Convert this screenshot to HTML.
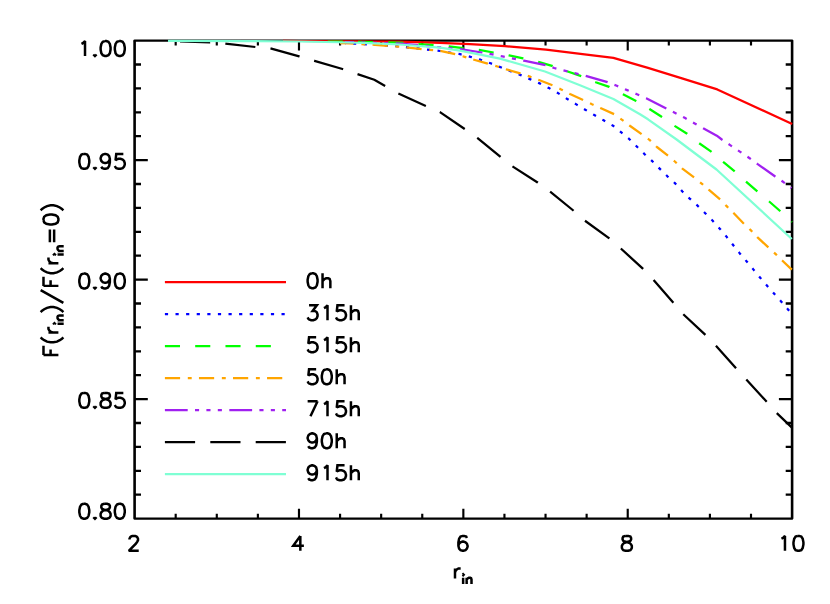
<!DOCTYPE html>
<html lang="en"><head><meta charset="utf-8"><title>plot</title>
<style>
html,body{margin:0;padding:0;background:#fff;}
body{width:830px;height:604px;overflow:hidden;}
svg{display:block;}
text{font-family:"Liberation Sans",sans-serif;fill:#000;}
</style></head><body>
<svg width="830" height="604" viewBox="0 0 830 604" role="img" aria-label="F(r_in)/F(r_in=0) versus r_in">
<title>F(r_in)/F(r_in=0) versus r_in</title>
<desc>Line plot. X axis r_in from 2 to 10; Y axis F(r_in)/F(r_in=0) from 0.80 to 1.00. Legend: 0h, 315h, 515h, 50h, 715h, 90h, 915h.</desc>
<rect width="830" height="604" fill="#fff"/>
<g stroke="#000" fill="none" stroke-linecap="butt">
<path stroke-width="2.35" stroke-linecap="round" d="M134.60 40.60H792.10M134.60 518.60H792.10"/>
<path stroke-width="2.60" d="M134.60 40.60V518.60M792.10 40.60V518.60"/>
<path stroke-width="2.15" d="M175.69 518.60v-4.80M175.69 40.60v4.80M216.79 518.60v-4.80M216.79 40.60v4.80M257.88 518.60v-4.80M257.88 40.60v4.80M298.98 518.60v-9.80M298.98 40.60v9.80M340.07 518.60v-4.80M340.07 40.60v4.80M381.16 518.60v-4.80M381.16 40.60v4.80M422.26 518.60v-4.80M422.26 40.60v4.80M463.35 518.60v-9.80M463.35 40.60v9.80M504.44 518.60v-4.80M504.44 40.60v4.80M545.54 518.60v-4.80M545.54 40.60v4.80M586.63 518.60v-4.80M586.63 40.60v4.80M627.73 518.60v-9.80M627.73 40.60v9.80M668.82 518.60v-4.80M668.82 40.60v4.80M709.91 518.60v-4.80M709.91 40.60v4.80M751.01 518.60v-4.80M751.01 40.60v4.80"/>
<path stroke-width="2.30" d="M134.60 64.50h6.40M792.10 64.50h-6.40M134.60 88.40h6.40M792.10 88.40h-6.40M134.60 112.30h6.40M792.10 112.30h-6.40M134.60 136.20h6.40M792.10 136.20h-6.40M134.60 160.10h13.20M792.10 160.10h-13.20M134.60 184.00h6.40M792.10 184.00h-6.40M134.60 207.90h6.40M792.10 207.90h-6.40M134.60 231.80h6.40M792.10 231.80h-6.40M134.60 255.70h6.40M792.10 255.70h-6.40M134.60 279.60h13.20M792.10 279.60h-13.20M134.60 303.50h6.40M792.10 303.50h-6.40M134.60 327.40h6.40M792.10 327.40h-6.40M134.60 351.30h6.40M792.10 351.30h-6.40M134.60 375.20h6.40M792.10 375.20h-6.40M134.60 399.10h13.20M792.10 399.10h-13.20M134.60 423.00h6.40M792.10 423.00h-6.40M134.60 446.90h6.40M792.10 446.90h-6.40M134.60 470.80h6.40M792.10 470.80h-6.40M134.60 494.70h6.40M792.10 494.70h-6.40"/>
</g>
<g fill="none" stroke-width="2.25" stroke-linejoin="round" stroke-linecap="butt">
<clipPath id="cr"><rect x="283" y="0" width="600" height="604"/></clipPath>
<clipPath id="cg"><rect x="315" y="0" width="600" height="604"/></clipPath>
<clipPath id="cp"><rect x="345" y="0" width="600" height="604"/></clipPath>
<clipPath id="co"><rect x="340" y="0" width="600" height="604"/></clipPath>
<clipPath id="cb"><rect x="345" y="0" width="600" height="604"/></clipPath>
<polyline stroke="#ff0000" clip-path="url(#cr)" points="168.0,40.9 250.0,40.9 300.0,41.0 350.0,41.3 375.0,41.5 400.0,41.6 440.0,42.9 470.0,44.2 505.0,46.2 546.0,49.7 584.6,54.3 613.4,57.9 648.0,67.9 682.0,78.3 717.3,89.4 792.2,124.1"/>
<polyline stroke="#0000ff" stroke-dasharray="3.2 7.4" stroke-dashoffset="5.70" clip-path="url(#cb)" points="168.0,40.9 250.0,41.2 300.0,41.8 350.0,43.4 375.0,44.7 400.0,46.5 440.0,51.0 460.2,54.2 470.4,56.8 480.5,59.7 490.6,63.3 500.7,67.3 520.2,74.9 529.9,79.1 539.8,83.4 549.0,88.1 558.0,93.1 567.3,99.0 576.3,104.4 585.2,109.7 594.3,115.0 603.6,120.3 613.0,125.7 621.3,132.4 628.9,138.7 644.4,154.0 652.3,161.2 659.9,168.9 667.4,176.3 675.2,183.4 682.4,191.5 689.7,198.6 697.6,205.7 705.2,213.2 712.7,220.8 719.8,228.7 726.7,236.9 733.3,245.3 739.8,253.4 746.7,261.4 753.5,269.6 760.2,277.7 767.1,285.7 774.2,293.7 781.1,301.4 788.0,309.4 792.0,314.0"/>
<polyline stroke="#00ff00" stroke-dasharray="15.1 15.19" stroke-dashoffset="22.04" clip-path="url(#cg)" points="168.0,40.9 250.0,41.0 300.0,41.2 350.0,41.8 375.0,42.2 400.0,42.7 449.0,46.3 463.1,48.2 479.0,49.9 493.5,52.5 509.1,55.4 523.1,58.3 538.3,61.8 552.0,65.8 567.0,71.2 580.5,75.9 595.7,82.2 609.2,86.9 623.0,94.3 636.1,101.1 649.5,109.0 661.6,116.8 674.6,125.9 687.1,133.7 699.2,143.3 711.2,151.6 723.5,162.2 734.4,171.1 746.3,181.8 757.3,191.4 769.2,201.5 779.5,210.5 792.0,222.0"/>
<polyline stroke="#ffa500" stroke-dasharray="15.2 7.7 3.9 7.25" stroke-dashoffset="-0.30" clip-path="url(#co)" points="168.0,40.9 250.0,41.2 300.0,41.8 350.0,43.4 375.0,44.9 399.0,46.7 441.4,51.1 455.2,54.2 464.6,56.8 474.0,59.7 487.7,63.6 497.5,66.5 506.5,69.4 520.2,73.3 529.9,76.6 539.0,80.0 552.7,85.3 561.1,89.4 570.0,94.0 583.5,100.2 592.0,104.3 601.0,108.3 614.2,114.2 622.1,119.8 630.2,126.0 642.0,134.5 649.4,139.8 656.9,147.0 668.4,156.0 675.4,162.0 682.7,168.9 694.1,177.5 702.0,183.8 709.3,190.2 720.2,199.5 726.9,206.4 733.8,213.2 744.1,224.0 751.0,230.4 757.8,237.7 768.6,247.6 775.7,254.1 782.2,260.5 791.8,269.6"/>
<polyline stroke="#a020f0" stroke-dasharray="22.8 7.3 4.1 7.3 4.1 7.3 4.1 7.42" stroke-dashoffset="30.00" clip-path="url(#cp)" points="168.0,40.9 250.0,41.0 300.0,41.3 350.0,42.1 375.0,42.8 400.0,43.5 460.2,49.2 481.9,52.5 502.5,56.4 523.9,60.7 545.5,65.1 554.2,68.0 585.5,75.8 607.5,82.2 616.2,85.5 626.5,89.9 637.0,94.3 646.2,98.2 665.8,108.3 674.7,112.7 684.7,117.8 694.7,123.4 703.2,128.3 716.8,135.7 721.8,139.5 729.8,144.9 739.8,151.6 749.3,158.0 757.3,163.9 775.2,176.5 783.1,181.8 791.5,188.0"/>
<polyline stroke="#000000" stroke-dasharray="30.2 15.2" stroke-dashoffset="33.40" points="168.0,41.0 179.0,41.4 210.0,42.5 225.2,43.5 255.4,47.0 270.3,48.3 299.2,56.4 314.5,60.8 342.5,69.0 357.4,74.1 374.3,79.8 385.2,86.0 398.4,93.5 425.8,105.9 440.0,112.1 464.7,129.0 477.3,137.9 500.6,157.0 512.4,166.3 537.6,182.5 549.9,191.5 573.3,210.5 584.8,220.6 609.3,238.3 620.7,248.4 643.1,268.8 653.6,279.9 673.5,302.9 682.9,313.9 705.6,335.0 715.6,345.4 736.1,368.4 745.9,379.1 767.0,402.1 776.4,412.8 792.2,427.9"/>
<polyline stroke="#7fffd4" points="168.0,40.9 250.0,41.1 300.0,41.5 350.0,42.5 375.0,43.4 400.0,44.5 440.0,47.7 460.0,50.6 500.0,58.6 545.0,71.5 580.0,85.2 613.4,99.0 640.0,114.2 648.0,119.3 676.6,139.5 716.5,169.5 791.8,239.0"/>
<path stroke="#ff0000" d="M164.9 282.00H286"/>
<path stroke="#0000ff" stroke-dasharray="3.2 7.4" d="M164.9 314.01H286"/>
<path stroke="#00ff00" stroke-dasharray="15.1 15.19" d="M164.9 346.02H286"/>
<path stroke="#ffa500" stroke-dasharray="15.2 7.7 3.9 7.25" d="M164.9 378.03H286"/>
<path stroke="#a020f0" stroke-dasharray="22.8 7.3 4.1 7.3 4.1 7.3 4.1 7.42" d="M164.9 410.04H286"/>
<path stroke="#000000" stroke-dasharray="30.2 15.2" d="M164.9 442.05H286"/>
<path stroke="#7fffd4" d="M164.9 474.06H286"/>
</g>
<path fill="none" stroke="#000" stroke-width="2.50" stroke-linecap="butt" stroke-linejoin="miter" stroke-miterlimit="2.4" d="M311.89 273.29L309.76 274.00L308.34 276.13L307.63 279.68L307.63 281.81L308.34 285.36L309.76 287.49L311.89 288.20L313.31 288.20L315.44 287.49L316.86 285.36L317.57 281.81L317.57 279.68L316.86 276.13L315.44 274.00L313.31 273.29L311.89 273.29M322.54 273.29L322.54 288.20M322.54 281.10L324.67 278.97L326.09 278.26L328.22 278.26L329.64 278.97L330.35 281.10L330.35 288.20M309.05 305.30L316.86 305.30L312.60 310.98L314.73 310.98L316.15 311.69L316.86 312.40L317.57 314.53L317.57 315.95L316.86 318.08L315.44 319.50L313.31 320.21L311.18 320.21L309.05 319.50L308.34 318.79L307.63 317.37M323.96 308.14L325.38 307.43L327.51 305.30L327.51 320.21M344.55 305.30L337.45 305.30L336.74 311.69L337.45 310.98L339.58 310.27L341.71 310.27L343.84 310.98L345.26 312.40L345.97 314.53L345.97 315.95L345.26 318.08L343.84 319.50L341.71 320.21L339.58 320.21L337.45 319.50L336.74 318.79L336.03 317.37M350.94 305.30L350.94 320.21M350.94 313.11L353.07 310.98L354.49 310.27L356.62 310.27L358.04 310.98L358.75 313.11L358.75 320.21M316.15 337.31L309.05 337.31L308.34 343.70L309.05 342.99L311.18 342.28L313.31 342.28L315.44 342.99L316.86 344.41L317.57 346.54L317.57 347.96L316.86 350.09L315.44 351.51L313.31 352.22L311.18 352.22L309.05 351.51L308.34 350.80L307.63 349.38M323.96 340.15L325.38 339.44L327.51 337.31L327.51 352.22M344.55 337.31L337.45 337.31L336.74 343.70L337.45 342.99L339.58 342.28L341.71 342.28L343.84 342.99L345.26 344.41L345.97 346.54L345.97 347.96L345.26 350.09L343.84 351.51L341.71 352.22L339.58 352.22L337.45 351.51L336.74 350.80L336.03 349.38M350.94 337.31L350.94 352.22M350.94 345.12L353.07 342.99L354.49 342.28L356.62 342.28L358.04 342.99L358.75 345.12L358.75 352.22M316.15 369.32L309.05 369.32L308.34 375.71L309.05 375.00L311.18 374.29L313.31 374.29L315.44 375.00L316.86 376.42L317.57 378.55L317.57 379.97L316.86 382.10L315.44 383.52L313.31 384.23L311.18 384.23L309.05 383.52L308.34 382.81L307.63 381.39M326.09 369.32L323.96 370.03L322.54 372.16L321.83 375.71L321.83 377.84L322.54 381.39L323.96 383.52L326.09 384.23L327.51 384.23L329.64 383.52L331.06 381.39L331.77 377.84L331.77 375.71L331.06 372.16L329.64 370.03L327.51 369.32L326.09 369.32M336.74 369.32L336.74 384.23M336.74 377.13L338.87 375.00L340.29 374.29L342.42 374.29L343.84 375.00L344.55 377.13L344.55 384.23M317.57 401.33L310.47 416.24M307.63 401.33L317.57 401.33M323.96 404.17L325.38 403.46L327.51 401.33L327.51 416.24M344.55 401.33L337.45 401.33L336.74 407.72L337.45 407.01L339.58 406.30L341.71 406.30L343.84 407.01L345.26 408.43L345.97 410.56L345.97 411.98L345.26 414.11L343.84 415.53L341.71 416.24L339.58 416.24L337.45 415.53L336.74 414.82L336.03 413.40M350.94 401.33L350.94 416.24M350.94 409.14L353.07 407.01L354.49 406.30L356.62 406.30L358.04 407.01L358.75 409.14L358.75 416.24M316.86 438.31L316.15 440.44L314.73 441.86L312.60 442.57L311.89 442.57L309.76 441.86L308.34 440.44L307.63 438.31L307.63 437.60L308.34 435.47L309.76 434.05L311.89 433.34L312.60 433.34L314.73 434.05L316.15 435.47L316.86 438.31L316.86 441.86L316.15 445.41L314.73 447.54L312.60 448.25L311.18 448.25L309.05 447.54L308.34 446.12M326.09 433.34L323.96 434.05L322.54 436.18L321.83 439.73L321.83 441.86L322.54 445.41L323.96 447.54L326.09 448.25L327.51 448.25L329.64 447.54L331.06 445.41L331.77 441.86L331.77 439.73L331.06 436.18L329.64 434.05L327.51 433.34L326.09 433.34M336.74 433.34L336.74 448.25M336.74 441.15L338.87 439.02L340.29 438.31L342.42 438.31L343.84 439.02L344.55 441.15L344.55 448.25M316.86 470.32L316.15 472.45L314.73 473.87L312.60 474.58L311.89 474.58L309.76 473.87L308.34 472.45L307.63 470.32L307.63 469.61L308.34 467.48L309.76 466.06L311.89 465.35L312.60 465.35L314.73 466.06L316.15 467.48L316.86 470.32L316.86 473.87L316.15 477.42L314.73 479.55L312.60 480.26L311.18 480.26L309.05 479.55L308.34 478.13M323.96 468.19L325.38 467.48L327.51 465.35L327.51 480.26M344.55 465.35L337.45 465.35L336.74 471.74L337.45 471.03L339.58 470.32L341.71 470.32L343.84 471.03L345.26 472.45L345.97 474.58L345.97 476.00L345.26 478.13L343.84 479.55L341.71 480.26L339.58 480.26L337.45 479.55L336.74 478.84L336.03 477.42M350.94 465.35L350.94 480.26M350.94 473.16L353.07 471.03L354.49 470.32L356.62 470.32L358.04 471.03L358.75 473.16L358.75 480.26M81.46 43.93L82.88 43.22L85.01 41.09L85.01 56.00M94.95 54.58L94.24 55.29L94.95 56.00L95.66 55.29L94.95 54.58M104.89 41.09L102.76 41.80L101.34 43.93L100.63 47.48L100.63 49.61L101.34 53.16L102.76 55.29L104.89 56.00L106.31 56.00L108.44 55.29L109.86 53.16L110.57 49.61L110.57 47.48L109.86 43.93L108.44 41.80L106.31 41.09L104.89 41.09M119.09 41.09L116.96 41.80L115.54 43.93L114.83 47.48L114.83 49.61L115.54 53.16L116.96 55.29L119.09 56.00L120.51 56.00L122.64 55.29L124.06 53.16L124.77 49.61L124.77 47.48L124.06 43.93L122.64 41.80L120.51 41.09L119.09 41.09M83.59 153.89L81.46 154.60L80.04 156.73L79.33 160.28L79.33 162.41L80.04 165.96L81.46 168.09L83.59 168.80L85.01 168.80L87.14 168.09L88.56 165.96L89.27 162.41L89.27 160.28L88.56 156.73L87.14 154.60L85.01 153.89L83.59 153.89M94.95 167.38L94.24 168.09L94.95 168.80L95.66 168.09L94.95 167.38M109.86 158.86L109.15 160.99L107.73 162.41L105.60 163.12L104.89 163.12L102.76 162.41L101.34 160.99L100.63 158.86L100.63 158.15L101.34 156.02L102.76 154.60L104.89 153.89L105.60 153.89L107.73 154.60L109.15 156.02L109.86 158.86L109.86 162.41L109.15 165.96L107.73 168.09L105.60 168.80L104.18 168.80L102.05 168.09L101.34 166.67M123.35 153.89L116.25 153.89L115.54 160.28L116.25 159.57L118.38 158.86L120.51 158.86L122.64 159.57L124.06 160.99L124.77 163.12L124.77 164.54L124.06 166.67L122.64 168.09L120.51 168.80L118.38 168.80L116.25 168.09L115.54 167.38L114.83 165.96M83.59 273.59L81.46 274.30L80.04 276.43L79.33 279.98L79.33 282.11L80.04 285.66L81.46 287.79L83.59 288.50L85.01 288.50L87.14 287.79L88.56 285.66L89.27 282.11L89.27 279.98L88.56 276.43L87.14 274.30L85.01 273.59L83.59 273.59M94.95 287.08L94.24 287.79L94.95 288.50L95.66 287.79L94.95 287.08M109.86 278.56L109.15 280.69L107.73 282.11L105.60 282.82L104.89 282.82L102.76 282.11L101.34 280.69L100.63 278.56L100.63 277.85L101.34 275.72L102.76 274.30L104.89 273.59L105.60 273.59L107.73 274.30L109.15 275.72L109.86 278.56L109.86 282.11L109.15 285.66L107.73 287.79L105.60 288.50L104.18 288.50L102.05 287.79L101.34 286.37M119.09 273.59L116.96 274.30L115.54 276.43L114.83 279.98L114.83 282.11L115.54 285.66L116.96 287.79L119.09 288.50L120.51 288.50L122.64 287.79L124.06 285.66L124.77 282.11L124.77 279.98L124.06 276.43L122.64 274.30L120.51 273.59L119.09 273.59M83.59 392.89L81.46 393.60L80.04 395.73L79.33 399.28L79.33 401.41L80.04 404.96L81.46 407.09L83.59 407.80L85.01 407.80L87.14 407.09L88.56 404.96L89.27 401.41L89.27 399.28L88.56 395.73L87.14 393.60L85.01 392.89L83.59 392.89M94.95 406.38L94.24 407.09L94.95 407.80L95.66 407.09L94.95 406.38M104.18 392.89L102.05 393.60L101.34 395.02L101.34 396.44L102.05 397.86L103.47 398.57L106.31 399.28L108.44 399.99L109.86 401.41L110.57 402.83L110.57 404.96L109.86 406.38L109.15 407.09L107.02 407.80L104.18 407.80L102.05 407.09L101.34 406.38L100.63 404.96L100.63 402.83L101.34 401.41L102.76 399.99L104.89 399.28L107.73 398.57L109.15 397.86L109.86 396.44L109.86 395.02L109.15 393.60L107.02 392.89L104.18 392.89M123.35 392.89L116.25 392.89L115.54 399.28L116.25 398.57L118.38 397.86L120.51 397.86L122.64 398.57L124.06 399.99L124.77 402.12L124.77 403.54L124.06 405.67L122.64 407.09L120.51 407.80L118.38 407.80L116.25 407.09L115.54 406.38L114.83 404.96M83.59 503.79L81.46 504.50L80.04 506.63L79.33 510.18L79.33 512.31L80.04 515.86L81.46 517.99L83.59 518.70L85.01 518.70L87.14 517.99L88.56 515.86L89.27 512.31L89.27 510.18L88.56 506.63L87.14 504.50L85.01 503.79L83.59 503.79M94.95 517.28L94.24 517.99L94.95 518.70L95.66 517.99L94.95 517.28M104.18 503.79L102.05 504.50L101.34 505.92L101.34 507.34L102.05 508.76L103.47 509.47L106.31 510.18L108.44 510.89L109.86 512.31L110.57 513.73L110.57 515.86L109.86 517.28L109.15 517.99L107.02 518.70L104.18 518.70L102.05 517.99L101.34 517.28L100.63 515.86L100.63 513.73L101.34 512.31L102.76 510.89L104.89 510.18L107.73 509.47L109.15 508.76L109.86 507.34L109.86 505.92L109.15 504.50L107.02 503.79L104.18 503.79M119.09 503.79L116.96 504.50L115.54 506.63L114.83 510.18L114.83 512.31L115.54 515.86L116.96 517.99L119.09 518.70L120.51 518.70L122.64 517.99L124.06 515.86L124.77 512.31L124.77 510.18L124.06 506.63L122.64 504.50L120.51 503.79L119.09 503.79M129.49 539.44L129.49 538.73L130.20 537.31L130.91 536.60L132.33 535.89L135.17 535.89L136.59 536.60L137.30 537.31L138.01 538.73L138.01 540.15L137.30 541.57L135.88 543.70L128.78 550.80L138.72 550.80M300.33 535.89L293.23 545.83L303.88 545.83M300.33 535.89L300.33 550.80M466.91 538.02L466.20 536.60L464.07 535.89L462.65 535.89L460.52 536.60L459.10 538.73L458.39 542.28L458.39 545.83L459.10 548.67L460.52 550.09L462.65 550.80L463.36 550.80L465.49 550.09L466.91 548.67L467.62 546.54L467.62 545.83L466.91 543.70L465.49 542.28L463.36 541.57L462.65 541.57L460.52 542.28L459.10 543.70L458.39 545.83M625.43 535.89L623.30 536.60L622.59 538.02L622.59 539.44L623.30 540.86L624.72 541.57L627.56 542.28L629.69 542.99L631.11 544.41L631.82 545.83L631.82 547.96L631.11 549.38L630.40 550.09L628.27 550.80L625.43 550.80L623.30 550.09L622.59 549.38L621.88 547.96L621.88 545.83L622.59 544.41L624.01 542.99L626.14 542.28L628.98 541.57L630.40 540.86L631.11 539.44L631.11 538.02L630.40 536.60L628.27 535.89L625.43 535.89M781.41 538.73L782.83 538.02L784.96 535.89L784.96 550.80M797.74 535.89L795.61 536.60L794.19 538.73L793.48 542.28L793.48 544.41L794.19 547.96L795.61 550.09L797.74 550.80L799.16 550.80L801.29 550.09L802.71 547.96L803.42 544.41L803.42 542.28L802.71 538.73L801.29 536.60L799.16 535.89L797.74 535.89M454.99 568.46L454.99 578.40M454.99 572.72L455.70 570.59L457.12 569.17L458.54 568.46L460.67 568.46M462.70 574.71L463.14 575.15L463.58 574.71L463.14 574.27L462.70 574.71M463.14 577.79L463.14 583.95M466.66 577.79L466.66 583.95M466.66 579.55L467.98 578.23L468.86 577.79L470.18 577.79L471.06 578.23L471.50 579.55L471.50 583.95"/>
<path transform="translate(58.4 357.9) rotate(-90) scale(0.997 1)" fill="none" stroke="#000" stroke-width="2.50" stroke-linecap="butt" stroke-linejoin="miter" stroke-miterlimit="2.4" d="M2.84 -14.91L2.84 0.00M2.84 -14.91L12.07 -14.91M2.84 -7.81L8.52 -7.81M20.59 -17.75L19.17 -16.33L17.75 -14.20L16.33 -11.36L15.62 -7.81L15.62 -4.97L16.33 -1.42L17.75 1.42L19.17 3.55L20.59 4.97M25.56 -9.94L25.56 0.00M25.56 -5.68L26.27 -7.81L27.69 -9.23L29.11 -9.94L31.24 -9.94M33.77 -3.94L34.21 -3.50L34.65 -3.94L34.21 -4.38L33.77 -3.94M34.21 -0.86L34.21 5.30M37.73 -0.86L37.73 5.30M37.73 0.90L39.05 -0.42L39.93 -0.86L41.25 -0.86L42.13 -0.42L42.57 0.90L42.57 5.30M45.97 -17.75L47.39 -16.33L48.81 -14.20L50.23 -11.36L50.94 -7.81L50.94 -4.97L50.23 -1.42L48.81 1.42L47.39 3.55L45.97 4.97M67.98 -17.75L55.20 4.97M72.24 -14.91L72.24 0.00M72.24 -14.91L81.47 -14.91M72.24 -7.81L77.92 -7.81M89.99 -17.75L88.57 -16.33L87.15 -14.20L85.73 -11.36L85.02 -7.81L85.02 -4.97L85.73 -1.42L87.15 1.42L88.57 3.55L89.99 4.97M94.96 -9.94L94.96 0.00M94.96 -5.68L95.67 -7.81L97.09 -9.23L98.51 -9.94L100.64 -9.94M103.17 -3.94L103.61 -3.50L104.05 -3.94L103.61 -4.38L103.17 -3.94M103.61 -0.86L103.61 5.30M107.13 -0.86L107.13 5.30M107.13 0.90L108.45 -0.42L109.33 -0.86L110.65 -0.86L111.53 -0.42L111.97 0.90L111.97 5.30M116.07 -8.52L128.85 -8.52M116.07 -4.26L128.85 -4.26M138.08 -14.91L135.95 -14.20L134.53 -12.07L133.82 -8.52L133.82 -6.39L134.53 -2.84L135.95 -0.71L138.08 0.00L139.50 0.00L141.63 -0.71L143.05 -2.84L143.76 -6.39L143.76 -8.52L143.05 -12.07L141.63 -14.20L139.50 -14.91L138.08 -14.91M148.02 -17.75L149.44 -16.33L150.86 -14.20L152.28 -11.36L152.99 -7.81L152.99 -4.97L152.28 -1.42L150.86 1.42L149.44 3.55L148.02 4.97"/>
</svg>
</body></html>
